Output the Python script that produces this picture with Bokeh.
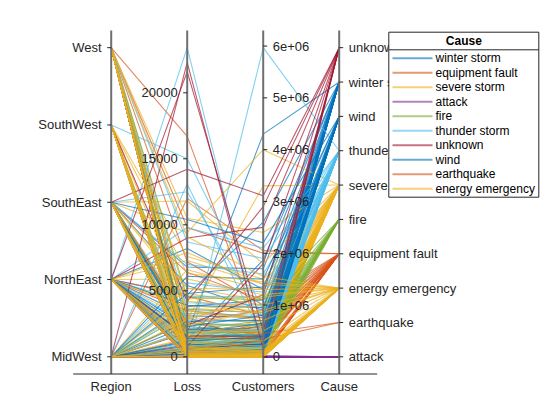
from bokeh.plotting import figure
from bokeh.models import Range1d
from bokeh.core.properties import value
from bokeh.embed import file_html
from bokeh.resources import INLINE

# ---------------- data ----------------
AXES = ["Region", "Loss", "Customers", "Cause"]
REGIONS = ["MidWest", "NorthEast", "SouthEast", "SouthWest", "West"]
REGION_CODES = {"MW": "MidWest", "NE": "NorthEast", "SE": "SouthEast", "SW": "SouthWest", "W": "West"}
CAUSE_AXIS = ["attack", "earthquake", "energy emergency", "equipment fault", "fire",
              "severe storm", "thunder storm", "wind", "winter storm", "unknown"]
CAUSE_LEGEND = ["winter storm", "equipment fault", "severe storm", "attack", "fire",
                "thunder storm", "unknown", "wind", "earthquake", "energy emergency"]
CAUSE_COLORS = ["#0072BD", "#D95319", "#EDB120", "#7E2F8E", "#77AC30",
                "#4DBEEE", "#A2142F", "#0072BD", "#D95319", "#EDB120"]
LOSS_TICKS = [0, 5000, 10000, 15000, 20000]
CUSTOMER_TICKS = [0, 1e6, 2e6, 3e6, 4e6, 5e6, 6e6]
CUSTOMER_TICK_LABELS = ["0", "1e+06", "2e+06", "3e+06", "4e+06", "5e+06", "6e+06"]

WINTER_STORM_REGION = ["MW", "MW", "MW", "MW", "MW", "NE", "NE", "NE", "NE", "SE", "SE", "SE", "SE", "SW", "W", "MW", "NE", "SE",
                       "MW", "NE", "SE", "MW", "NE", "SE"]
WINTER_STORM_LOSS = [420, 1100, 650, 2300, 1800, 900, 3100, 1500, 8200, 280, 2600, 5400, 1300, 150, 700, 350, 4700, 960,
                     600, 2000, 450, 3800, 1200, 6800]
WINTER_STORM_CUSTOMERS = [95000, 210000, 160000, 480000, 4300000, 130000, 760000, 330000, 1300000, 70000, 410000, 900000,
                          1870000, 40000, 190000, 250000, 2600000, 620000,
                          170000, 520000, 110000, 1100000, 400000, 1700000]

EQUIPMENT_FAULT_REGION = ["W", "W", "W", "SW", "SE", "SE", "NE", "NE", "MW", "MW", "MW", "W", "SW", "SE", "NE", "MW",
                          "W", "W", "SW", "SE", "SE", "NE", "NE", "MW", "MW", "W"]
EQUIPMENT_FAULT_LOSS = [16700, 9800, 1200, 400, 300, 2100, 4600, 150, 90, 600, 12000, 3000, 700, 6400, 250, 1900,
                        500, 1500, 300, 800, 2600, 1000, 3500, 200, 1300, 7200]
EQUIPMENT_FAULT_CUSTOMERS = [300000, 2000000, 120000, 30000, 15000, 450000, 800000, 20000, 8000, 90000, 2050000, 250000,
                             60000, 1100000, 35000, 520000,
                             350000, 600000, 280000, 400000, 900000, 500000, 750000, 300000, 650000, 1000000]

SEVERE_STORM_REGION = ["W", "W", "W", "W", "W", "W", "W",
                       "SW", "SW", "SW", "SW", "SW", "SW", "SW",
                       "SE", "SE", "SE", "SE", "SE", "SE", "SE", "SE", "SE",
                       "NE", "NE", "NE", "NE", "NE", "NE", "NE", "NE",
                       "MW", "MW", "MW", "MW", "MW", "MW", "MW", "MW", "MW",
                       "W", "W", "W", "SW", "SW", "SW", "SE", "SE", "SE", "SE",
                       "NE", "NE", "NE", "NE", "MW", "MW", "MW", "MW", "W", "SE"]
SEVERE_STORM_LOSS = [300, 800, 1500, 150, 4200, 600, 2400,
                     200, 1000, 3500, 50, 700, 7600, 1300,
                     100, 500, 2200, 9400, 350, 1700, 11800, 800, 4800,
                     250, 1400, 5900, 60, 900, 2800, 450, 7300,
                     120, 650, 1900, 3300, 80, 1000, 5200, 400, 2600,
                     50, 400, 1100, 90, 500, 2000, 30, 700, 1300, 3000,
                     150, 600, 1800, 3900, 40, 300, 1400, 6600, 10500, 250]
SEVERE_STORM_CUSTOMERS = [80000, 220000, 410000, 30000, 950000, 140000, 600000,
                          50000, 260000, 700000, 12000, 170000, 1500000, 330000,
                          25000, 110000, 520000, 4000000, 90000, 380000, 1800000, 200000, 1000000,
                          60000, 300000, 1200000, 10000, 230000, 3300000, 100000, 1400000,
                          35000, 160000, 450000, 750000, 20000, 280000, 1100000, 95000, 560000,
                          15000, 120000, 320000, 20000, 150000, 480000, 8000, 180000, 350000, 650000,
                          40000, 130000, 420000, 880000, 12000, 90000, 310000, 1300000, 2400000, 70000]

ATTACK_REGION = ["W", "W", "W", "W", "W", "W", "W", "W", "MW", "MW", "MW", "MW", "MW", "MW",
                 "NE", "NE", "NE", "NE", "NE", "SE", "SE", "SE", "SE", "SW", "SW"]
ATTACK_LOSS = [0, 0, 0, 0, 0, 120, 0, 40, 0, 0, 0, 200, 0, 0, 0, 0, 60, 0, 0, 0, 0, 0, 90, 0, 0]
ATTACK_CUSTOMERS = [0, 0, 0, 0, 0, 15000, 0, 3000, 0, 0, 0, 22000, 0, 0, 0, 0, 5000, 0, 0, 0, 0, 0, 8000, 0, 0]

FIRE_REGION = ["W", "W", "W", "W", "W", "SW", "SE", "MW", "W", "W", "W", "SW", "SW", "SE", "MW", "W"]
FIRE_LOSS = [300, 1200, 2500, 90, 700, 1800, 400, 3600, 150, 500, 1000, 250, 800, 2000, 600, 4500]
FIRE_CUSTOMERS = [120000, 380000, 620000, 40000, 250000, 480000, 200000, 850000,
                  180000, 300000, 550000, 280000, 420000, 700000, 330000, 1100000]

THUNDER_STORM_REGION = ["NE", "SE", "SW", "MW", "MW", "MW", "MW", "MW", "MW", "NE", "NE", "NE", "NE", "NE",
                        "SE", "SE", "SE", "SE", "SE", "SW", "W", "W", "W", "W", "MW",
                        "MW", "MW", "NE", "NE", "SE", "SE", "SW", "W", "MW", "SE"]
THUNDER_STORM_LOSS = [23418, 100, 15000, 400, 1200, 3300, 700, 5600, 2000, 600, 2500, 9800, 250, 4100,
                      300, 1800, 7000, 900, 12500, 1100, 600, 3600, 200, 8700, 13100,
                      150, 900, 450, 1300, 200, 2800, 500, 1000, 4600, 350]
THUNDER_STORM_CUSTOMERS = [100000, 5968874, 900000, 110000, 300000, 800000, 180000, 1250000, 500000, 140000,
                           600000, 2100000, 60000, 1000000, 90000, 420000, 1600000, 220000, 750000, 280000,
                           150000, 850000, 50000, 1900000, 350000,
                           40000, 260000, 100000, 380000, 70000, 700000, 160000, 320000, 1150000, 120000]

UNKNOWN_REGION = ["NE", "SE", "NE", "MW", "MW", "NE", "NE", "SE", "W", "SW"]
UNKNOWN_LOSS = [21600, 14200, 9000, 22300, 800, 1500, 300, 2400, 600, 4200]
UNKNOWN_CUSTOMERS = [500000, 3110000, 2500000, 150000, 1800000, 400000, 90000, 1200000, 250000, 2900000]

WIND_REGION = ["MW", "MW", "MW", "MW", "MW", "NE", "NE", "NE", "SE", "SE", "SE", "SE", "W", "W", "SW",
               "MW", "MW", "NE", "SE", "SE", "W", "MW", "NE"]
WIND_LOSS = [200, 900, 2700, 450, 6100, 300, 1600, 3900, 120, 800, 2100, 10400, 500, 1400, 250,
             350, 1200, 700, 250, 1800, 900, 4800, 2300]
WIND_CUSTOMERS = [60000, 240000, 700000, 120000, 1500000, 80000, 420000, 950000, 30000, 200000, 560000, 2200000,
                  140000, 350000, 70000,
                  100000, 380000, 230000, 90000, 650000, 300000, 1350000, 800000]

EARTHQUAKE_REGION = ["W", "W"]
EARTHQUAKE_LOSS = [0, 150]
EARTHQUAKE_CUSTOMERS = [340000, 450000]

ENERGY_EMERGENCY_REGION = ["SE", "SE", "SE", "SE", "SE", "SE", "SE", "SE",
                           "W", "W", "W", "W", "W", "W",
                           "SW", "SW", "SW", "SW", "SW", "SW",
                           "MW", "MW", "MW", "MW", "MW",
                           "NE", "NE", "NE", "NE", "NE",
                           "SE", "SE", "SE", "W", "W", "W", "SW", "SW", "SW", "MW", "MW", "MW", "NE", "NE", "NE"]
ENERGY_EMERGENCY_LOSS = [0, 150, 600, 2400, 50, 1100, 5200, 300,
                         0, 800, 3200, 100, 9100, 450,
                         0, 200, 1500, 6300, 60, 700,
                         0, 350, 1900, 80, 4400,
                         0, 250, 1200, 3700, 7900,
                         0, 90, 400, 0, 250, 1600, 0, 120, 900, 0, 500, 2800, 0, 180, 700]
ENERGY_EMERGENCY_CUSTOMERS = [0, 20000, 80000, 900000, 5000, 150000, 1300000, 40000,
                              0, 110000, 1000000, 10000, 1550000, 60000,
                              0, 25000, 300000, 1450000, 8000, 95000,
                              0, 45000, 500000, 12000, 1150000,
                              0, 30000, 200000, 850000, 1400000,
                              0, 10000, 60000, 0, 35000, 700000, 0, 15000, 120000, 0, 70000, 1200000, 0, 20000, 90000]

GROUPS = [
    (WINTER_STORM_REGION, WINTER_STORM_LOSS, WINTER_STORM_CUSTOMERS),
    (EQUIPMENT_FAULT_REGION, EQUIPMENT_FAULT_LOSS, EQUIPMENT_FAULT_CUSTOMERS),
    (SEVERE_STORM_REGION, SEVERE_STORM_LOSS, SEVERE_STORM_CUSTOMERS),
    (ATTACK_REGION, ATTACK_LOSS, ATTACK_CUSTOMERS),
    (FIRE_REGION, FIRE_LOSS, FIRE_CUSTOMERS),
    (THUNDER_STORM_REGION, THUNDER_STORM_LOSS, THUNDER_STORM_CUSTOMERS),
    (UNKNOWN_REGION, UNKNOWN_LOSS, UNKNOWN_CUSTOMERS),
    (WIND_REGION, WIND_LOSS, WIND_CUSTOMERS),
    (EARTHQUAKE_REGION, EARTHQUAKE_LOSS, EARTHQUAKE_CUSTOMERS),
    (ENERGY_EMERGENCY_REGION, ENERGY_EMERGENCY_LOSS, ENERGY_EMERGENCY_CUSTOMERS),
]

# ---------------- layout helpers (positions in photographed-page pixels) ----------------
W, H = 544, 404
ORIGIN = 0                            # page pixel where the plot frame starts
AX0_PX, AX_STEP_PX = 110.7, 76.0      # page x of first axis, spacing
YBOT_PX, YLEN_PX = 373.5, 343.5       # page y of axis bottom, axis length


def dx(px):
    return (px - AX0_PX) / AX_STEP_PX


def dy(py):
    return (YBOT_PX - py) / YLEN_PX


all_loss = [v for g in GROUPS for v in g[1]]
all_cust = [v for g in GROUPS for v in g[2]]
LOSS_LO, LOSS_HI = min(all_loss), max(all_loss)
CUST_LO, CUST_HI = min(all_cust), max(all_cust)


def norm(v, lo, hi):
    return 0.05 + 0.9 * (v - lo) / (hi - lo)


def norm_cat(name, cats):
    return 0.05 + 0.9 * cats.index(name) / (len(cats) - 1)


p = figure(width=W, height=H, output_backend="svg", toolbar_location=None,
           x_range=Range1d(dx(ORIGIN), dx(ORIGIN + W)), y_range=Range1d(dy(ORIGIN + H), dy(ORIGIN)),
           x_axis_location=None, y_axis_location=None, min_border=0)
p.grid.visible = False
p.outline_line_color = None
p.background_fill_color = "white"
p.border_fill_color = "white"

FONT = value("Liberation Sans")
TXT = "#262626"

# data lines
for cause, color, (reg, loss, cust) in zip(CAUSE_LEGEND, CAUSE_COLORS, GROUPS):
    xs, ys = [], []
    for r, l, c in zip(reg, loss, cust):
        xs.append([0, 1, 2, 3])
        ys.append([norm_cat(REGION_CODES[r], REGIONS), norm(l, LOSS_LO, LOSS_HI),
                   norm(c, CUST_LO, CUST_HI), norm_cat(cause, CAUSE_AXIS)])
    p.multi_line(xs, ys, line_color=color, line_alpha=0.7, line_width=1.1)

# axes
p.segment(x0=[0, 1, 2, 3], y0=[0] * 4, x1=[0, 1, 2, 3], y1=[1] * 4, line_color="#707070", line_width=2)
p.segment(x0=[-0.5], y0=[0], x1=[3.5], y1=[0], line_color=TXT, line_width=1)

tick_len = 4 / AX_STEP_PX
axis_specs = [
    (0, [norm_cat(r, REGIONS) for r in REGIONS], REGIONS, -1),
    (1, [norm(t, LOSS_LO, LOSS_HI) for t in LOSS_TICKS], [str(t) for t in LOSS_TICKS], -1),
    (2, [norm(t, CUST_LO, CUST_HI) for t in CUSTOMER_TICKS], CUSTOMER_TICK_LABELS, 1),
    (3, [norm_cat(c, CAUSE_AXIS) for c in CAUSE_AXIS], CAUSE_AXIS, 1),
]
for ax, ys, labels, side in axis_specs:
    keep = [(y, t) for y, t in zip(ys, labels) if 0 <= y <= 1]
    ys = [k[0] for k in keep]
    labels = [k[1] for k in keep]
    p.segment(x0=[ax] * len(ys), y0=ys, x1=[ax + side * tick_len] * len(ys), y1=ys,
              line_color=TXT, line_width=1)
    p.text(x=[ax] * len(ys), y=ys, text=labels, x_offset=9.5 * side,
           text_align="right" if side < 0 else "left", text_baseline="middle",
           text_font=FONT, text_font_size="13px", text_color=TXT)

p.text(x=[0, 1, 2, 3], y=[dy(386)] * 4, text=AXES, text_align="center", text_baseline="middle",
       text_font=FONT, text_font_size="13px", text_color=TXT)

# legend (drawn on top of the tick labels)
L, R, T, B = 388.3, 538.3, 31.7, 196.7
p.quad(left=[dx(L)], right=[dx(R)], top=[dy(T)], bottom=[dy(B)],
       fill_color="white", line_color=TXT, line_width=1)
p.text(x=[dx((L + R) / 2)], y=[dy(40.5)], text=["Cause"], text_align="center", text_baseline="middle",
       text_font=FONT, text_font_size="12px", text_font_style="bold", text_color="black")
p.segment(x0=[dx(L)], y0=[dy(49.3)], x1=[dx(R)], y1=[dy(49.3)], line_color=TXT, line_width=1)
rows_y = [dy(57.7 + 14.5 * i) for i in range(len(CAUSE_LEGEND))]
p.segment(x0=[dx(392)] * len(rows_y), y0=rows_y, x1=[dx(432)] * len(rows_y), y1=rows_y,
          line_color=CAUSE_COLORS, line_width=2, line_alpha=0.6)
p.text(x=[dx(435)] * len(rows_y), y=rows_y, text=CAUSE_LEGEND, text_align="left", text_baseline="middle",
       text_font=FONT, text_font_size="12px", text_color="black")

open("out.html", "w").write(file_html(p, INLINE))
